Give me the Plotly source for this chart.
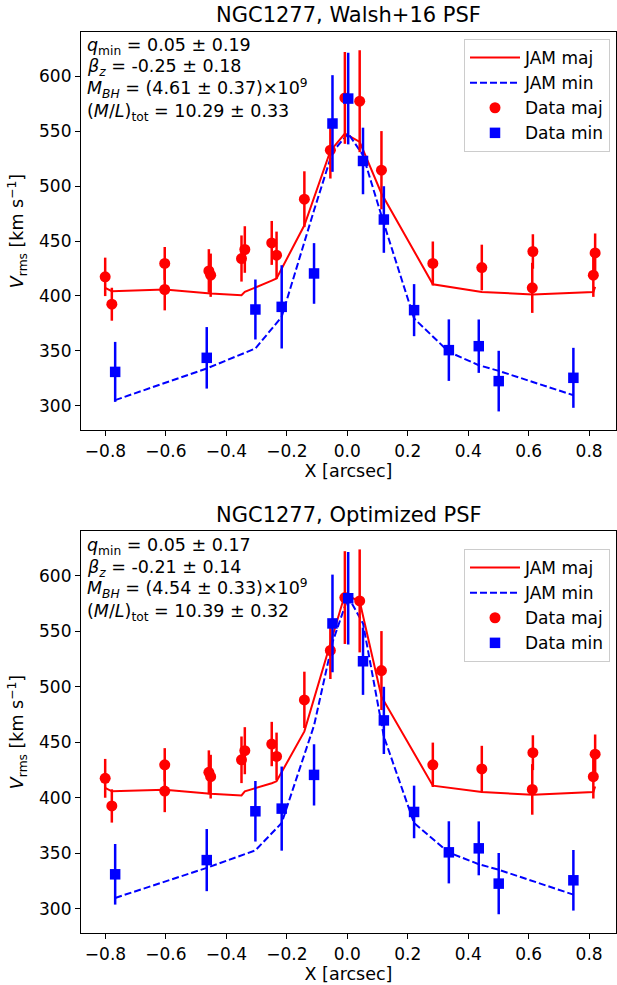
import plotly.graph_objects as go

# ---------------- data (shared by both panels) ----------------
x_maj = [-0.801, -0.779, -0.604, -0.604, -0.458, -0.452, -0.350, -0.339, -0.250, -0.234,
         -0.142, -0.056, -0.008, 0.041, 0.113, 0.283, 0.445, 0.612, 0.614, 0.814, 0.820]
v_maj = [417.4, 392.5, 429.6, 405.9, 422.8, 418.9, 434.1, 442.3, 448.3, 437.1,
         488.1, 532.7, 580.3, 577.3, 514.5, 429.6, 425.9, 407.4, 440.5, 418.9, 439.2]
e_maj = [17.5, 15.0, 15.0, 19.0, 19.8, 19.7, 21.0, 21.2, 20.0, 21.5,
         25.4, 25.8, 41.8, 46.4, 35.6, 20.0, 20.8, 22.8, 15.7, 19.7, 17.7]

x_min = [-0.768, -0.465, -0.304, -0.217, -0.110, -0.049, 0.003, 0.052, 0.121, 0.221,
         0.336, 0.435, 0.501, 0.748]
v_min = [330.9, 343.7, 387.7, 390.1, 420.5, 557.0, 579.7, 522.9, 469.6, 387.1,
         350.7, 354.3, 322.5, 325.5]
e_min = [27.3, 28.0, 27.3, 37.9, 27.6, 44.0, 41.7, 30.3, 30.3, 23.7,
         28.0, 24.3, 27.6, 27.3]

# JAM models evaluated at the data positions
jam_maj_walsh = [407.4, 404.4, 405.9, 405.9, 402.3, 402.3, 400.7, 403.7, 414.0, 415.9,
                 464.4, 532.0, 547.9, 540.2, 493.3, 410.7, 403.7, 401.4, 401.4, 403.7, 408.3]
jam_min_walsh = [305.2, 334.0, 352.2, 381.0, 478.0, 531.1, 547.9, 528.1, 466.0, 379.5,
                 349.1, 337.0, 331.8, 309.7]
jam_maj_opt = [408.7, 405.7, 407.0, 407.0, 403.6, 403.6, 402.0, 405.7, 413.0, 414.7,
               459.7, 539.0, 583.0, 577.0, 491.0, 410.8, 405.0, 402.7, 402.7, 405.0, 410.0]
jam_min_opt = [309.6, 336.7, 352.5, 377.2, 465.0, 540.0, 581.0, 557.0, 455.0, 377.0,
               350.5, 340.0, 335.0, 312.6]

titles = ["NGC1277, Walsh+16 PSF", "NGC1277, Optimized PSF"]
params = [
    ["0.05 ± 0.19", "-0.25 ± 0.18", "(4.61 ± 0.37)×10<sup>9</sup>", "10.29 ± 0.33"],
    ["0.05 ± 0.17", "-0.21 ± 0.14", "(4.54 ± 0.33)×10<sup>9</sup>", "10.39 ± 0.32"],
]
x_ticks = [-0.8, -0.6, -0.4, -0.2, 0.0, 0.2, 0.4, 0.6, 0.8]
y_ticks = [300, 350, 400, 450, 500, 550, 600]

FONT = "DejaVu Sans"
RED = "#ff0000"
BLUE = "#0000ff"

fig = go.Figure()

models = [(jam_maj_walsh, jam_min_walsh), (jam_maj_opt, jam_min_opt)]
for i, (mmaj, mmin) in enumerate(models):
    xa = "x" if i == 0 else "x2"
    ya = "y" if i == 0 else "y2"
    lg = "legend" if i == 0 else "legend2"
    fig.add_trace(go.Scatter(x=x_maj, y=mmaj, mode="lines", name="JAM maj",
                             line=dict(color=RED, width=2), xaxis=xa, yaxis=ya, legend=lg))
    fig.add_trace(go.Scatter(x=x_min, y=mmin, mode="lines", name="JAM min",
                             line=dict(color=BLUE, width=2, dash="7px,3px"),
                             xaxis=xa, yaxis=ya, legend=lg))
    fig.add_trace(go.Scatter(x=x_maj, y=v_maj, mode="markers", name="Data maj",
                             marker=dict(color=RED, size=11, symbol="circle"),
                             error_y=dict(type="data", array=e_maj, color=RED, thickness=2.5, width=0),
                             xaxis=xa, yaxis=ya, legend=lg))
    fig.add_trace(go.Scatter(x=x_min, y=v_min, mode="markers", name="Data min",
                             marker=dict(color=BLUE, size=10.5, symbol="square"),
                             error_y=dict(type="data", array=e_min, color=BLUE, thickness=2.5, width=0),
                             xaxis=xa, yaxis=ya, legend=lg))

axis_common = dict(
    showgrid=False, zeroline=False, showline=True, mirror=True,
    linecolor="black", linewidth=1.2, ticks="outside", ticklen=5, tickwidth=1.2,
    tickcolor="black", tickfont=dict(family=FONT, size=17, color="black"),
)
xrange = [-0.881, 0.889]
yrange = [278, 640.3]

top_dom = [(933 - 430) / 901, 1.0]
bot_dom = [0.0, (933 - 531) / 901]

xtitle = dict(text="X [arcsec]", font=dict(family=FONT, size=17.5, color="black"), standoff=4)
ytitle = dict(text="<i>V</i><sub>rms</sub> [km s<sup>−1</sup>]",
              font=dict(family=FONT, size=17.5, color="black"), standoff=10)

legend_common = dict(
    font=dict(family=FONT, size=17, color="black"),
    bgcolor="rgba(255,255,255,0.8)", bordercolor="#cccccc", borderwidth=1,
    xref="paper", yref="paper", xanchor="right", yanchor="top", itemwidth=50,
)

fig.update_layout(
    width=617, height=985,
    margin=dict(l=81, r=1, t=32, b=52),
    paper_bgcolor="white", plot_bgcolor="white",
    font=dict(family=FONT, size=17, color="black"),
    xaxis=dict(domain=[0, 1], anchor="y", range=xrange, tickvals=x_ticks,
               ticktext=[f"{v:.1f}".replace("-", "−") for v in x_ticks],
               title=xtitle, **axis_common),
    yaxis=dict(domain=top_dom, anchor="x", range=yrange, tickvals=y_ticks,
               title=ytitle, **axis_common),
    xaxis2=dict(domain=[0, 1], anchor="y2", range=xrange, tickvals=x_ticks,
                ticktext=[f"{v:.1f}".replace("-", "−") for v in x_ticks],
                title=xtitle, **axis_common),
    yaxis2=dict(domain=bot_dom, anchor="x2", range=yrange, tickvals=y_ticks,
                title=ytitle, **axis_common),
    legend=dict(x=(610 - 81) / 535, y=(933 - 39) / 901, **legend_common),
    legend2=dict(x=(610 - 81) / 535, y=(933 - 549) / 901, **legend_common),
    showlegend=True,
)

# titles and parameter text
panel_px = [(32, 430), (531, 933)]
title_py = [15, 515]
text_py = [[46, 68, 88, 112], [546, 568, 588, 612]]
labels = ["<i>q</i><sub>min</sub> = ", "<i>β</i><sub><i>z</i></sub> = ",
          "<i>M</i><sub><i>BH</i></sub> = ", "(<i>M</i>/<i>L</i>)<sub>tot</sub> = "]
for i in range(2):
    top, bot = panel_px[i]
    h = bot - top
    xr = "x domain" if i == 0 else "x2 domain"
    yr = "y domain" if i == 0 else "y2 domain"
    fig.add_annotation(text=titles[i], xref=xr, yref=yr, x=0.5, y=(bot - title_py[i]) / h,
                       xanchor="center", yanchor="middle", showarrow=False,
                       font=dict(family=FONT, size=21, color="black"))
    for j in range(4):
        fig.add_annotation(text=labels[j] + params[i][j], xref=xr, yref=yr,
                           x=(84.5 - 81) / 535, y=(bot - text_py[i][j]) / h,
                           xanchor="left", yanchor="middle", showarrow=False, align="left",
                           font=dict(family=FONT, size=17.5, color="black"))

fig.write_html("out.html", post_script="document.body.style.margin='0';",
               config={"displayModeBar": False})
